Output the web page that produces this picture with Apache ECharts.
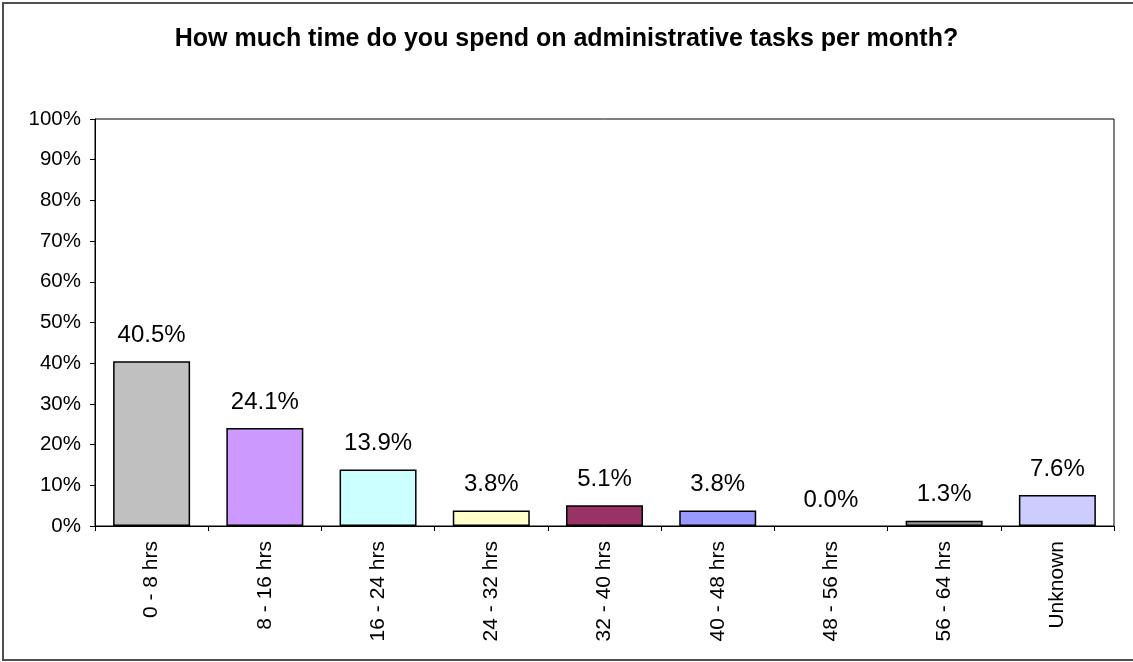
<!DOCTYPE html>
<html>
<head>
<meta charset="utf-8">
<script src="https://cdn.jsdelivr.net/npm/echarts@6/dist/echarts.min.js"></script>
<style>
  html, body { margin: 0; padding: 0; background: #fff; overflow: hidden; }
  #frame { position: absolute; left: 2px; top: 2px; width: 1140px; height: 659px; border: 2px solid #505050; box-sizing: border-box; }
  #chart { position: absolute; left: 0; top: 0; width: 1133px; height: 662px; }
</style>
</head>
<body>
<div id="frame"></div>
<div id="chart"></div>
<script>
const categories = ['0 - 8 hrs', '8 - 16 hrs', '16 - 24 hrs', '24 - 32 hrs', '32 - 40 hrs', '40 - 48 hrs', '48 - 56 hrs', '56 - 64 hrs', 'Unknown'];
const shares = [40.5, 24.1, 13.9, 3.8, 5.1, 3.8, 0.0, 1.3, 7.6];
const barColors = ['#C0C0C0', '#CC99FF', '#CCFFFF', '#FFFFCC', '#993366', '#9999FF', '#FFFFFF', '#969696', '#CCCCFF'];
const yTicks = [0, 10, 20, 30, 40, 50, 60, 70, 80, 90, 100];

const font = '"Liberation Sans", Arial, sans-serif';
const chart = echarts.init(document.getElementById('chart'), null, { renderer: 'canvas' });

chart.setOption({
  animation: false,
  backgroundColor: 'transparent',
  title: {
    text: 'How much time do you spend on administrative tasks per month?',
    left: 'center',
    top: 22,
    textStyle: { fontFamily: font, fontSize: 25, fontWeight: 'bold', color: '#000' }
  },
  grid: { left: 95, top: 119, right: 19, bottom: 136, show: true, borderColor: '#000', borderWidth: 1, backgroundColor: '#fff' },
  xAxis: {
    type: 'category',
    data: categories,
    axisLine: { lineStyle: { color: '#000', width: 1 } },
    axisTick: { show: true, alignWithLabel: false, length: 5, lineStyle: { color: '#000' } },
    axisLabel: { rotate: 90, margin: 15, fontFamily: font, fontSize: 21, color: '#000', interval: 0 }
  },
  yAxis: {
    type: 'value',
    min: yTicks[0],
    max: yTicks[yTicks.length - 1],
    interval: 10,
    axisLine: { show: true, lineStyle: { color: '#000', width: 1 } },
    axisTick: { show: true, length: 5, lineStyle: { color: '#000' } },
    splitLine: { show: false },
    axisLabel: { fontFamily: font, fontSize: 20.5, color: '#000', margin: 14, formatter: v => v + '%' }
  },
  series: [{
    type: 'bar',
    barWidth: '68%',
    data: shares.map((v, i) => ({
      value: v,
      itemStyle: { color: barColors[i], borderColor: '#000', borderWidth: v > 0 ? 1.5 : 0 }
    })),
    label: {
      show: true,
      position: 'top',
      distance: 14,
      fontFamily: font,
      fontSize: 24,
      color: '#000',
      formatter: p => p.value.toFixed(1) + '%'
    }
  }]
});
</script>
</body>
</html>
